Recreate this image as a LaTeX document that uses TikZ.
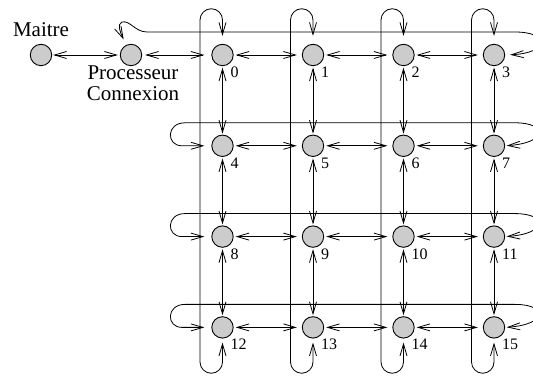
\documentclass[tikz,border=0pt]{standalone}
\usepackage{fontspec}
\setmainfont{Liberation Serif}
\usetikzlibrary{arrows.meta,calc}
\begin{document}
\begin{tikzpicture}[x=1pt,y=1pt,
  proc/.style={circle, draw, line width=0.9pt, fill=gray!40, minimum size=21.4pt, inner sep=0pt},
  link/.style={line width=0.8pt, {Straight Barb[length=12pt,width=7pt]}-{Straight Barb[length=12pt,width=7pt]}},
  lbl/.style={font=\fontsize{16}{19}\selectfont, inner sep=0pt, anchor=west},
  txt/.style={font=\fontsize{21}{25}\selectfont, inner sep=0pt, anchor=base}]
\useasboundingbox (0,0) rectangle (533,377);
\node[proc] (M) at (41,322) {};
\node[proc] (P) at (131,322) {};
\node[txt] (tM) at (41,340.3) {Maitre};
\node[txt] (tP) at (133,297) {Processeur};
\node[txt] (tC) at (133,276.3) {Connexion};
\foreach \r/\y in {0/322, 1/231.2, 2/140.4, 3/49.6} {
  \foreach \c/\x in {0/222.5, 1/313, 2/403.5, 3/494} {
    \pgfmathtruncatemacro\k{4*\r+\c}
    \node[proc] (n\k) at (\x,\y) {};
    \node[lbl] (l\k) at (\x+8,\y-17.3) {\k};
  }
}
% master / connection processor
\draw[link, shorten <=1pt, shorten >=2pt] (M) -- (P);
\draw[link, shorten <=3pt, shorten >=7pt] (P) -- (n0);
% horizontal neighbours
\foreach \r in {0,...,3} {
  \foreach \c in {0,1,2} {
    \pgfmathtruncatemacro\a{4*\r+\c}
    \pgfmathtruncatemacro\b{\a+1}
    \draw[link, shorten <=2pt, shorten >=5pt] (n\a) -- (n\b);
  }
}
% vertical neighbours
\foreach \r in {0,1,2} {
  \foreach \c in {0,...,3} {
    \pgfmathtruncatemacro\a{4*\r+\c}
    \pgfmathtruncatemacro\b{\a+4}
    \draw[link, shorten <=1.5pt, shorten >=1pt] (n\a) -- (n\b);
  }
}
% vertical wrap-around
\foreach \c in {0,...,3} {
  \pgfmathtruncatemacro\b{\c+12}
  \draw[link, shorten <=8pt, shorten >=4pt] (n\c.north) -- ($(n\c)+(0,35)$)
    arc[start angle=0, end angle=180, radius=11.25]
    -- ($(n\b)+(-22.5,-34.6)$)
    arc[start angle=180, end angle=360, radius=11.25]
    -- (n\b.south);
}
% horizontal wrap-around, rows 1-3
\foreach \r in {1,2,3} {
  \pgfmathtruncatemacro\a{4*\r}
  \pgfmathtruncatemacro\b{4*\r+3}
  \draw[link, shorten <=7pt, shorten >=1.5pt] (n\a.west) -- ($(n\a)+(-40.5,0)$)
    .. controls ($(n\a)+(-56.5,0)$) and ($(n\a)+(-56.5,23)$) .. ($(n\a)+(-37.5,23)$)
    -- ($(n\b)+(21,23)$)
    .. controls ($(n\b)+(54,23)$) and ($(n\b)+(54,3)$) .. (n\b.east);
}
% row 0 wrap-around to the connection processor
\draw[link, shorten <=5pt, shorten >=6pt] (n3.east)
  .. controls ($(n3)+(56,2)$) and ($(n3)+(56,23)$) .. ($(n3)+(21,23)$)
  -- (147,345)
  .. controls (135,345) and (130,357) .. (122,355)
  .. controls (117,353) and (120,345) .. (P.115);
\end{tikzpicture}
\end{document}
